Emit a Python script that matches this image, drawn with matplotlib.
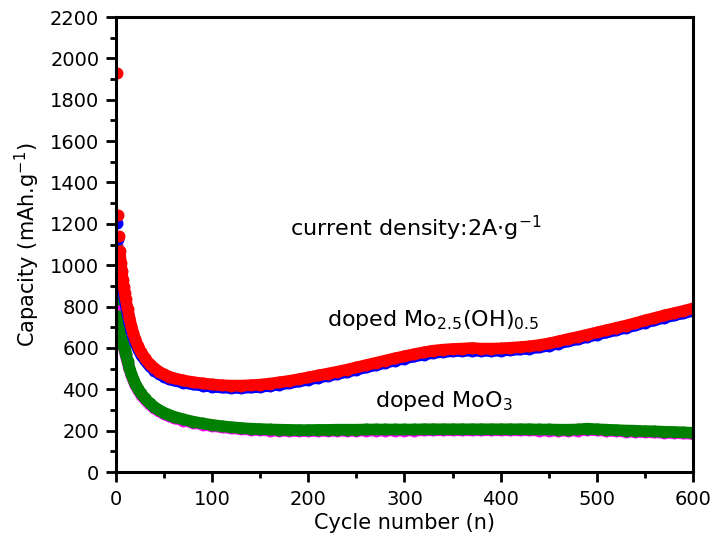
import matplotlib
matplotlib.use("Agg")
import matplotlib.pyplot as plt
from matplotlib.ticker import MultipleLocator

# DejaVu is wider than Arial, closer to the stretched text of the original
plt.rcParams['font.family'] = ['DejaVu Sans']
plt.rcParams['mathtext.fontset'] = 'dejavusans'

cycles = [1, 2, 3, 4, 5, 6, 7, 8, 9, 10, 12, 14, 16, 18, 20, 23, 26, 30, 35, 40,
          45, 50, 55, 60, 70, 80, 90, 100, 110, 120, 130, 140, 150, 160, 170, 180,
          190, 200, 210, 220, 230, 240, 250, 260, 270, 280, 290, 300, 310, 320, 330,
          340, 350, 360, 370, 380, 390, 400, 410, 420, 430, 440, 450, 460, 470, 480,
          490, 500, 510, 520, 530, 540, 550, 560, 570, 580, 590, 600]

# doped Mo2.5(OH)0.5
mo_charge = [1930, 1245, 1140, 1067, 1011, 971, 931, 896, 865, 838, 790, 745, 705, 670,
             642, 608, 580, 552, 522, 502, 485, 472, 462, 454, 443, 435, 429, 424, 420,
             418, 418, 420, 423, 428, 434, 441, 449, 458, 467, 476, 485, 495, 506, 517,
             528, 539, 550, 560, 570, 579, 587, 592, 595, 597, 600, 597, 597, 598, 601,
             604, 608, 614, 622, 632, 643, 653, 664, 675, 686, 697, 708, 720, 733, 745,
             757, 768, 779, 791]
mo_discharge = [1205, 1125, 1050, 1000, 962, 928, 893, 863, 834, 809, 764, 722, 684, 652,
                626, 594, 567, 540, 511, 491, 474, 461, 451, 443, 432, 424, 418, 413, 409,
                407, 407, 409, 412, 417, 423, 430, 438, 447, 456, 465, 474, 484, 495, 506,
                517, 528, 539, 549, 559, 568, 576, 581, 584, 586, 587, 586, 586, 587, 590,
                593, 597, 603, 611, 621, 632, 642, 653, 664, 675, 686, 697, 709, 722, 734,
                746, 757, 768, 779]

# doped MoO3
moo3_charge = [1083, 835, 755, 705, 675, 650, 628, 607, 588, 570, 535, 502, 474, 450,
               428, 402, 380, 357, 333, 314, 299, 287, 277, 268, 255, 244, 235, 228, 222,
               217, 213, 210, 208, 206, 205, 204, 203, 203, 204, 204, 205, 205, 205, 206,
               206, 206, 206, 206, 206, 207, 207, 207, 207, 207, 207, 207, 207, 207, 207,
               207, 207, 206, 206, 205, 205, 206, 210, 207, 205, 203, 201, 200, 198, 197,
               195, 194, 192, 190]
moo3_discharge = [1100, 851, 787, 700, 668, 643, 621, 601, 582, 564, 529, 496, 468, 444,
                  422, 396, 374, 351, 327, 308, 293, 281, 271, 262, 249, 239, 230, 223,
                  217, 212, 208, 205, 203, 201, 200, 199, 198, 198, 199, 199, 200, 200,
                  200, 201, 201, 201, 201, 201, 201, 202, 202, 202, 202, 202, 202, 202,
                  202, 202, 202, 202, 202, 201, 201, 200, 200, 201, 205, 202, 200, 198,
                  196, 195, 193, 192, 190, 189, 187, 185]

series = [(moo3_discharge, 'magenta'), (moo3_charge, 'green'),
          (mo_discharge, 'blue'), (mo_charge, 'red')]

fig = plt.figure(figsize=(7.18, 5.42), dpi=100)
ax = fig.add_axes([0.1616, 0.129, 0.8034, 0.8396])

for vals, col in series:
    # thick band through the dense part, dots on top
    ax.plot(cycles[3:], vals[3:], '-', color=col, lw=8.4, solid_capstyle='round')
    ax.plot(cycles, vals, 'o', color=col, ms=8.6, mec='none')

ax.set_xlim(0, 600)
ax.set_ylim(0, 2200)
ax.xaxis.set_major_locator(MultipleLocator(100))
ax.xaxis.set_minor_locator(MultipleLocator(50))
ax.yaxis.set_major_locator(MultipleLocator(200))
ax.yaxis.set_minor_locator(MultipleLocator(100))
ax.tick_params(which='both', direction='out', width=2, labelsize=14,
               top=False, right=False)
ax.tick_params(which='major', length=7)
ax.tick_params(which='minor', length=4)
ax.tick_params(axis='y', pad=5)
ax.tick_params(axis='x', pad=6)
for s in ax.spines.values():
    s.set_linewidth(2.2)

ax.set_xlabel('Cycle number (n)', fontsize=15, labelpad=3)
ax.set_ylabel(r'Capacity (mAh.g$^{-1}$)', fontsize=15, labelpad=6)

ax.text(181, 1180, r'current density:2A$\cdot$g$^{-1}$',
        fontsize=16, va='center', ha='left')
ax.text(219, 735, r'doped Mo$_{2.5}$(OH)$_{0.5}$',
        fontsize=16, va='center', ha='left')
ax.text(269, 345, r'doped MoO$_{3}$',
        fontsize=16, va='center', ha='left')

fig.savefig('out.png', dpi=100)
